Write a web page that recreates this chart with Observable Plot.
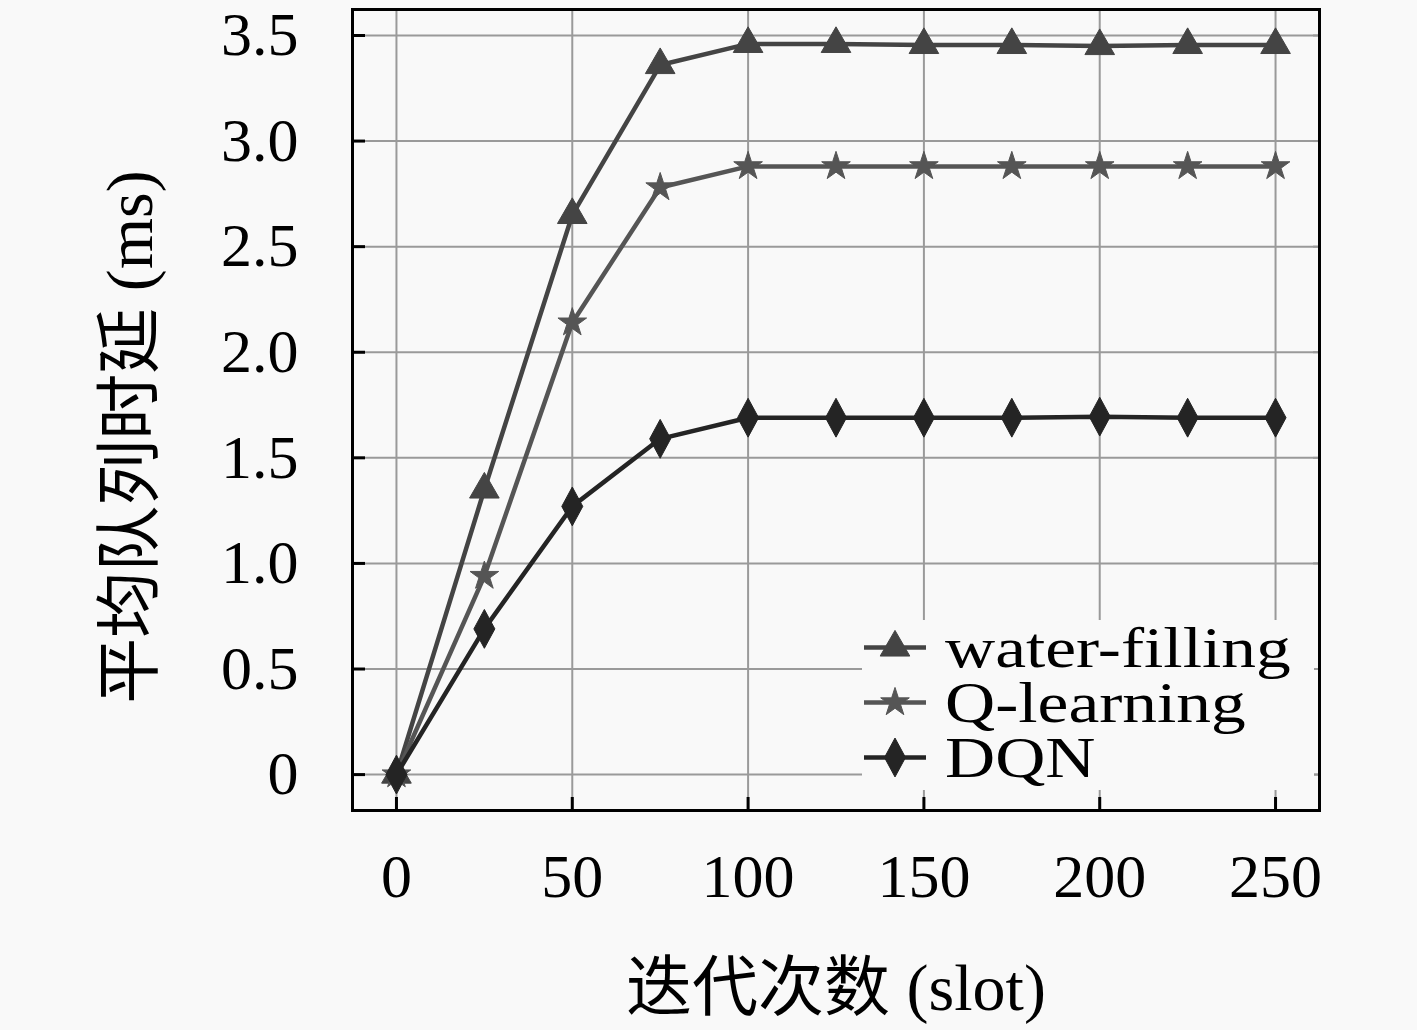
<!DOCTYPE html>
<html>
<head>
<meta charset="utf-8">
<script src="https://cdn.jsdelivr.net/npm/d3@7"></script>
<script src="https://cdn.jsdelivr.net/npm/@observablehq/plot@0.6"></script>
<style>
  html, body { margin: 0; padding: 0; background: #f9f9f9; }
  #wrap { position: relative; width: 1417px; height: 1030px; overflow: hidden; }
  #legend { position: absolute; background: #f9f9f9; font-family: "Liberation Serif", serif; color: #000; }
  #legend .row { display: flex; align-items: center; height: 55px; }
  #legend .row span { display: inline-block; font-size: 56px; line-height: 50px; margin-left: 17px;
    transform: scaleX(1.24); transform-origin: left center; white-space: nowrap; }
</style>
</head>
<body>
<div id="wrap"></div>
<script>
// ---- data ----
const slots = [0, 25, 50, 75, 100, 125, 150, 175, 200, 225, 250];
const waterFilling = [0, 1.35, 2.65, 3.36, 3.46, 3.46, 3.455, 3.455, 3.45, 3.455, 3.455];
const qLearning   = [0, 0.94, 2.14, 2.78, 2.88, 2.88, 2.88, 2.88, 2.88, 2.88, 2.88];
const dqn         = [0, 0.69, 1.27, 1.59, 1.69, 1.69, 1.69, 1.69, 1.695, 1.69, 1.69];
const seriesNames = ["water-filling", "Q-learning", "DQN"];
const xTicks = [0, 50, 100, 150, 200, 250];
const yTicks = [0, 0.5, 1.0, 1.5, 2.0, 2.5, 3.0, 3.5];
const xTitle = "迭代次数 (slot)";
const yTitle = "平均队列时延 (ms)";

// ---- styles ----
const lineColors = ["#444444", "#555555", "#242424"];
const tallDiamond = {
  draw(context, size) {
    const r = Math.sqrt(size / Math.PI);
    const w = r * 1.0, h = r * 1.85;
    context.moveTo(0, -h);
    context.lineTo(w, 0);
    context.lineTo(0, h);
    context.lineTo(-w, 0);
    context.closePath();
  }
};
const symbols = [d3.symbolTriangle, d3.symbolStar, tallDiamond];
const radii = [11, 9, 10.5];

const seriesValues = [waterFilling, qLearning, dqn];
const data = seriesNames.flatMap((name, i) =>
  slots.map((s, j) => ({ series: name, slot: s, value: seriesValues[i][j] }))
);

const serif = "Liberation Serif, Noto Sans CJK SC, serif";

const dotMarks = seriesNames.map((name, i) =>
  Plot.dot(data.filter(d => d.series === name), {
    x: "slot", y: "value",
    symbol: symbols[i], r: radii[i],
    fill: lineColors[i], stroke: lineColors[i], strokeWidth: 1
  })
);

const chart = Plot.plot({
  width: 1417,
  height: 1030,
  marginLeft: 352,
  marginRight: 98,
  marginTop: 9,
  marginBottom: 220,
  style: { background: "#f9f9f9", fontFamily: serif },
  x: { domain: [-12.5, 262.5] },
  y: { domain: [-0.17, 3.623] },
  color: { domain: seriesNames, range: lineColors },
  marks: [
    Plot.gridX(xTicks, { stroke: "#9a9a9a", strokeOpacity: 1, strokeWidth: 2 }),
    Plot.gridY(yTicks, { stroke: "#9a9a9a", strokeOpacity: 1, strokeWidth: 2 }),
    Plot.axisX(xTicks, { anchor: "bottom", tickSize: 0, tickPadding: 42, fontSize: 62, label: null, fill: "#000" }),
    Plot.axisY(yTicks, { anchor: "left", tickSize: 0, tickPadding: 54, fontSize: 62, label: null, fill: "#000",
      tickFormat: d => d === 0 ? "0" : d.toFixed(1) }),
    Plot.axisX(xTicks, { anchor: "bottom", tickSize: -13, tickFormat: () => "", label: null, stroke: "#000", strokeWidth: 3 }),
    Plot.axisY(yTicks, { anchor: "left", tickSize: -13, tickFormat: () => "", label: null, stroke: "#000", strokeWidth: 3 }),
    Plot.axisY(yTicks, { anchor: "right", tickSize: -7, tickFormat: () => "", label: null, stroke: "#999", strokeWidth: 2 }),
    Plot.line(data, { x: "slot", y: "value", z: "series", stroke: "series", strokeWidth: 4.5 }),
    ...dotMarks,
    Plot.frame({ stroke: "#000", strokeWidth: 3 }),
    Plot.text([xTitle], { frameAnchor: "bottom", dy: 178, fontSize: 66, fill: "#000", lineAnchor: "middle", textAnchor: "middle" }),
    Plot.text([yTitle], { frameAnchor: "left", dx: -222, dy: 27, rotate: -90, fontSize: 66, fill: "#000", lineAnchor: "middle", textAnchor: "middle" })
  ]
});

const wrap = document.getElementById("wrap");
wrap.appendChild(chart);

// ---- legend (inside plot, lower right) ----
const legend = document.createElement("div");
legend.id = "legend";
legend.style.left = "862px";
legend.style.top = "620px";
legend.style.width = "452px";
legend.style.height = "170px";
seriesNames.forEach((name, i) => {
  const row = document.createElement("div");
  row.className = "row";
  const svg = d3.create("svg").attr("width", 66).attr("height", 55);
  svg.append("line").attr("x1", 2).attr("x2", 64).attr("y1", 27.5).attr("y2", 27.5)
    .attr("stroke", lineColors[i]).attr("stroke-width", 4.5);
  svg.append("path")
    .attr("transform", "translate(33,27.5)")
    .attr("d", d3.symbol(symbols[i], Math.PI * radii[i] * radii[i])())
    .attr("fill", lineColors[i]).attr("stroke", lineColors[i]);
  row.appendChild(svg.node());
  const t = document.createElement("span");
  t.textContent = name;
  row.appendChild(t);
  legend.appendChild(row);
});
wrap.appendChild(legend);
</script>
</body>
</html>
